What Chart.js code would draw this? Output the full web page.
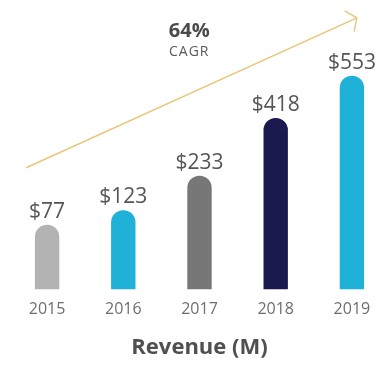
<!DOCTYPE html>
<html>
<head>
<meta charset="utf-8">
<script src="https://cdn.jsdelivr.net/npm/chart.js@4/dist/chart.umd.min.js"></script>
<style>
  html, body { margin: 0; padding: 0; background: #ffffff; }
  #wrap { width: 392px; height: 374px; }
</style>
</head>
<body>
<div id="wrap"><canvas id="c" width="392" height="374"></canvas></div>
<script>
const categories = ["2015", "2016", "2017", "2018", "2019"];
const revenue = [77, 123, 233, 418, 553];
const valueLabels = ["$77", "$123", "$233", "$418", "$553"];
const barColors = ["#b3b3b3", "#20b1d8", "#777777", "#1b1a4e", "#20b1d8"];
const cagrValue = "64%";
const cagrLabel = "CAGR";
const axisTitle = "Revenue (M)";

const FONT = "'Open Sans', 'Noto Sans', sans-serif";

const labelPlugin = {
  id: 'barLabels',
  afterDatasetsDraw(chart) {
    const ctx = chart.ctx;
    const meta = chart.getDatasetMeta(0);
    ctx.save();
    ctx.fillStyle = '#555555';
    ctx.font = `400 21px ${FONT}`;
    ctx.textAlign = 'center';
    ctx.textBaseline = 'alphabetic';
    meta.data.forEach((bar, i) => {
      ctx.fillText(valueLabels[i], bar.x, bar.y - 7);
    });
    ctx.restore();
  }
};

const arrowPlugin = {
  id: 'cagrArrow',
  beforeDatasetsDraw(chart) {
    const ctx = chart.ctx;
    const a = chart.chartArea;
    const w = a.right - a.left, h = a.bottom - a.top;
    const x0 = a.left + 0.045 * w, y0 = a.top + 0.563 * h;
    const x1 = a.left + 0.913 * w, y1 = a.top + 0.025 * h;
    ctx.save();
    ctx.strokeStyle = '#e8c679';
    ctx.lineWidth = 1.4;
    ctx.beginPath();
    ctx.moveTo(x0, y0);
    ctx.lineTo(x1, y1);
    ctx.stroke();
    const back = Math.atan2(y0 - y1, x0 - x1);
    const len = 14;
    const spread = 0.95;
    ctx.beginPath();
    ctx.moveTo(x1 + len * Math.cos(back + spread), y1 + len * Math.sin(back + spread));
    ctx.lineTo(x1, y1);
    ctx.lineTo(x1 + len * Math.cos(back - spread), y1 + len * Math.sin(back - spread));
    ctx.stroke();
    // CAGR text
    ctx.textAlign = 'center';
    ctx.textBaseline = 'alphabetic';
    ctx.fillStyle = '#4a4a4a';
    ctx.font = `bold 20px ${FONT}`;
    ctx.fillText(cagrValue, a.left + 0.473 * w, 37);
    ctx.fillStyle = '#5a5a5a';
    ctx.font = `400 14px ${FONT}`;
    ctx.letterSpacing = '1px';
    ctx.fillText(cagrLabel, a.left + 0.473 * w, 56);
    ctx.restore();
  }
};

new Chart(document.getElementById('c'), {
  type: 'bar',
  data: {
    labels: categories,
    datasets: [{
      data: revenue,
      backgroundColor: barColors,
      base: -130,
      borderRadius: 12,
      borderSkipped: 'start',
      categoryPercentage: 1,
      barPercentage: 0.32
    }]
  },
  options: {
    responsive: false,
    animation: false,
    devicePixelRatio: 1,
    layout: { padding: { left: 9, right: 2, top: 11, bottom: 10 } },
    plugins: {
      legend: { display: false },
      tooltip: { enabled: false }
    },
    scales: {
      x: {
        grid: { display: false, drawTicks: false },
        border: { display: false },
        ticks: { color: '#6e6e6e', font: { family: FONT, size: 16, weight: '400' }, padding: 10 },
        title: {
          display: true, text: axisTitle, color: '#505050',
          font: { family: FONT, size: 22, weight: 'bold' },
          padding: { top: 6, bottom: 3 }
        }
      },
      y: {
        display: false,
        min: -130,
        max: 760
      }
    }
  },
  plugins: [labelPlugin, arrowPlugin]
});
</script>
</body>
</html>
